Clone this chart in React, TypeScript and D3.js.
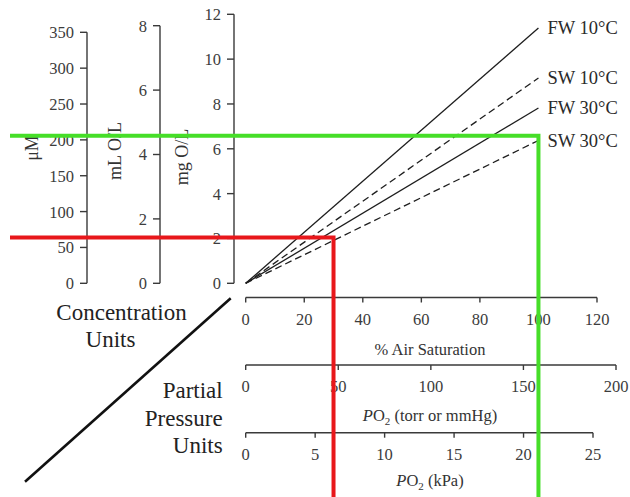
import React from 'react';
import * as d3 from 'd3';

// Oxygen solubility lines: mg O2/L at 0 and 100 % air saturation
const airSat = [0, 100];
const seriesNames = ['FW 10°C', 'SW 10°C', 'FW 30°C', 'SW 30°C'];
const fw10 = [0, 11.39];
const sw10 = [0, 9.16];
const fw30 = [0, 7.82];
const sw30 = [0, 6.37];

// tick labels of the six axes
const uMTicks = [0, 50, 100, 150, 200, 250, 300, 350];
const mLTicks = [0, 2, 4, 6, 8];
const mgTicks = [0, 2, 4, 6, 8, 10, 12];
const airTicks = [0, 20, 40, 60, 80, 100, 120];
const torrTicks = [0, 50, 100, 150, 200];
const kPaTicks = [0, 5, 10, 15, 20, 25];

// red and green read-off guides (air saturation %, mg O2/L)
const guideAirSat = [30, 100];
const guideMg = [2.04, 6.58];

const FONT = '"Liberation Serif", "Times New Roman", serif';

const App = () => {
  const width = 630;
  const height = 497;

  const x0 = 245.7;
  const y0 = 283.3;

  const xAir = d3.scaleLinear().domain([0, 120]).range([x0, 597]);
  const xTorr = d3.scaleLinear().domain([0, 200]).range([x0, 616]);
  const xKPa = d3.scaleLinear().domain([0, 25]).range([x0, 593]);
  const yMg = d3.scaleLinear().domain([0, 12]).range([y0, 14.3]);
  const yML = d3.scaleLinear().domain([0, 8]).range([y0, 25.7]);
  const yUM = d3.scaleLinear().domain([0, 350]).range([y0, 32.3]);

  const series = [fw10, sw10, fw30, sw30];
  const line = d3
    .line<number>()
    .x((_, i) => xAir(airSat[i]))
    .y(d => yMg(d));

  const tickColor = '#3c3c3c';
  const axisColor = '#3a3a3a';

  const vAxis = (
    scale: d3.ScaleLinear<number, number>,
    ticks: number[],
    ax: number,
    key: string
  ) => (
    <g key={key}>
      <line
        x1={ax}
        x2={ax}
        y1={scale(ticks[0])}
        y2={scale(ticks[ticks.length - 1])}
        stroke={axisColor}
        strokeWidth={1.4}
      />
      {ticks.map(t => (
        <g key={t}>
          <line x1={ax - 7} x2={ax} y1={scale(t)} y2={scale(t)} stroke={axisColor} strokeWidth={1.4} />
          <text
            x={ax - 13}
            y={scale(t)}
            dy="0.36em"
            textAnchor="end"
            fontSize={16.5}
            fill={tickColor}
          >
            {t}
          </text>
        </g>
      ))}
    </g>
  );

  const hAxis = (
    scale: d3.ScaleLinear<number, number>,
    ticks: number[],
    ay: number,
    key: string
  ) => (
    <g key={key}>
      <line
        x1={scale(ticks[0])}
        x2={scale(ticks[ticks.length - 1])}
        y1={ay}
        y2={ay}
        stroke={axisColor}
        strokeWidth={1.4}
      />
      {ticks.map(t => (
        <g key={t}>
          <line x1={scale(t)} x2={scale(t)} y1={ay} y2={ay + 5} stroke={axisColor} strokeWidth={1.4} />
          <text x={scale(t)} y={ay + 27} textAnchor="middle" fontSize={16.5} fill={tickColor}>
            {t}
          </text>
        </g>
      ))}
    </g>
  );

  const guideColors = ['#e8171b', '#46de28'];

  return (
    <svg
      width={width}
      height={height}
      style={{ position: 'absolute', left: 0, top: 0, background: '#fff' }}
      fontFamily={FONT}
    >
      {/* concentration axes */}
      {vAxis(yUM, uMTicks, 87, 'um')}
      {vAxis(yML, mLTicks, 160, 'ml')}
      {vAxis(yMg, mgTicks, 234, 'mg')}

      <text transform="translate(38,148) rotate(-90)" textAnchor="middle" fontSize={18} fill="#333">
        μM
      </text>
      <text transform="translate(120.5,151) rotate(-90)" textAnchor="middle" fontSize={18} fill="#333">
        mL O/L
      </text>
      <text transform="translate(188,157) rotate(-90)" textAnchor="middle" fontSize={18} fill="#333">
        mg O/L
      </text>

      {/* partial pressure axes */}
      {hAxis(xAir, airTicks, 297.5, 'air')}
      {hAxis(xTorr, torrTicks, 365, 'torr')}
      {hAxis(xKPa, kPaTicks, 432.7, 'kpa')}

      <text x={430} y={355} textAnchor="middle" fontSize={16.5} fill="#333">
        % Air Saturation
      </text>
      <text x={430} y={421} textAnchor="middle" fontSize={16.5} fill="#333">
        <tspan fontStyle="italic">P</tspan>O
        <tspan dy={4} fontSize={11}>2</tspan>
        <tspan dy={-4}> (torr or mmHg)</tspan>
      </text>
      <text x={430} y={486} textAnchor="middle" fontSize={16.5} fill="#333">
        <tspan fontStyle="italic">P</tspan>O
        <tspan dy={4} fontSize={11}>2</tspan>
        <tspan dy={-4}> (kPa)</tspan>
      </text>

      {/* solubility lines */}
      {series.map((s, i) => {
        const dashed = seriesNames[i].startsWith('SW');
        return (
          <g key={seriesNames[i]}>
            <path
              d={line(s) as string}
              fill="none"
              stroke="#1e1e1e"
              strokeWidth={1.3}
              strokeDasharray={dashed ? '7,4' : undefined}
            />
            <text
              x={xAir(airSat[airSat.length - 1]) + 9}
              y={yMg(s[s.length - 1]) + 6}
              fontSize={18.5}
              fill="#2a2a2a"
            >
              {seriesNames[i]}
            </text>
          </g>
        );
      })}

      {/* diagonal divider and unit group labels */}
      <line x1={25} y1={481.7} x2={230.7} y2={298.3} stroke="#111" strokeWidth={2.6} />
      <text x={121.5} y={320} textAnchor="middle" fontSize={23} fill="#222">
        Concentration
      </text>
      <text x={110.5} y={347} textAnchor="middle" fontSize={23} fill="#222">
        Units
      </text>
      <text x={222.7} y={397.5} textAnchor="end" fontSize={23} fill="#222">
        Partial
      </text>
      <text x={222.7} y={425.5} textAnchor="end" fontSize={23} fill="#222">
        Pressure
      </text>
      <text x={222.7} y={452.5} textAnchor="end" fontSize={23} fill="#222">
        Units
      </text>

      {/* read-off guides */}
      {guideAirSat.map((a, i) => (
        <path
          key={a}
          d={`M10,${yMg(guideMg[i])}H${xAir(a)}V${height}`}
          fill="none"
          stroke={guideColors[i]}
          strokeWidth={4}
        />
      ))}
    </svg>
  );
};

export default App;
